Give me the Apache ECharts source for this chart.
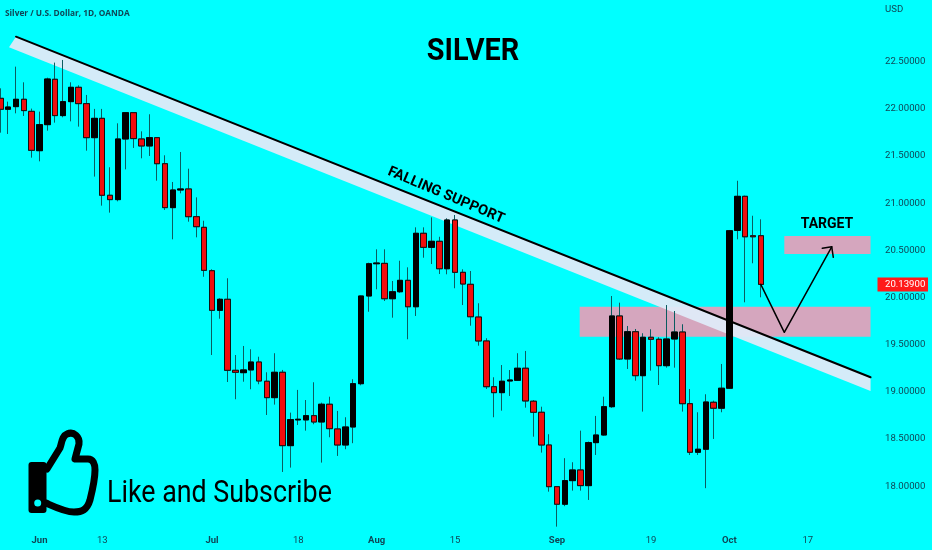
<!DOCTYPE html>
<html>
<head>
<meta charset="utf-8">
<style>html,body{margin:0;padding:0;background:#00ffff}#c{width:932px;height:550px}</style>
<script src="https://cdn.jsdelivr.net/npm/echarts@6/dist/echarts.min.js"></script>
</head>
<body>
<div id="c"></div>
<script>
const categories = ['May 25','May 26','May 27','May 30','May 31','Jun 1','Jun 2','Jun 3','Jun 6','Jun 7','Jun 8','Jun 9','Jun 10','Jun 13','Jun 14','Jun 15','Jun 16','Jun 17','Jun 20','Jun 21','Jun 22','Jun 23','Jun 24','Jun 27','Jun 28','Jun 29','Jun 30','Jul 1','Jul 4','Jul 5','Jul 6','Jul 7','Jul 8','Jul 11','Jul 12','Jul 13','Jul 14','Jul 15','Jul 18','Jul 19','Jul 20','Jul 21','Jul 22','Jul 25','Jul 26','Jul 27','Jul 28','Jul 29','Aug 1','Aug 2','Aug 3','Aug 4','Aug 5','Aug 8','Aug 9','Aug 10','Aug 11','Aug 12','Aug 15','Aug 16','Aug 17','Aug 18','Aug 19','Aug 22','Aug 23','Aug 24','Aug 25','Aug 26','Aug 29','Aug 30','Aug 31','Sep 1','Sep 2','Sep 5','Sep 6','Sep 7','Sep 8','Sep 9','Sep 12','Sep 13','Sep 14','Sep 15','Sep 16','Sep 19','Sep 20','Sep 21','Sep 22','Sep 23','Sep 26','Sep 27','Sep 28','Sep 29','Sep 30','Oct 3','Oct 4','Oct 5','Oct 6','Oct 7','Oct 10','Oct 11','Oct 12','Oct 13','Oct 14','Oct 17','Oct 18','Oct 19','Oct 20','Oct 21','Oct 24','Oct 25','Oct 26','Oct 27'];
const tickDates = ['Jun 1','Jun 13','Jul 1','Jul 18','Aug 1','Aug 15','Sep 1','Sep 19','Oct 3','Oct 17'];
const tickLabels = ['Jun','13','Jul','18','Aug','15','Sep','19','Oct','17'];
const opens = [22.112,21.996,22.024,22.102,21.974,21.557,21.833,22.314,21.929,22.077,22.229,22.056,21.695,21.900,21.084,21.038,21.681,21.960,21.681,21.607,21.695,21.419,20.953,21.140,21.151,20.857,20.744,20.284,19.864,19.981,19.228,19.203,19.232,19.316,19.112,18.938,19.207,18.429,18.702,18.702,18.747,18.680,18.868,18.606,18.436,18.627,19.086,20.016,20.358,20.362,19.987,20.061,20.182,19.902,20.681,20.532,20.596,20.305,20.822,20.267,20.140,19.793,19.539,19.054,18.991,19.115,19.122,19.250,18.900,18.783,18.436,17.994,17.808,18.058,18.171,18.005,18.461,18.542,18.842,19.804,19.348,19.637,19.171,19.578,19.557,19.277,19.560,19.634,18.874,18.359,18.391,18.889,18.826,19.038,20.712,21.073,20.655,20.655];
const closes = [21.996,22.020,22.102,21.982,21.561,21.833,22.317,21.929,22.077,22.229,22.056,21.695,21.900,21.084,21.038,21.681,21.960,21.685,21.607,21.695,21.419,20.953,21.140,21.151,20.857,20.751,20.288,19.864,19.981,19.228,19.207,19.232,19.316,19.115,18.938,19.207,18.429,18.705,18.709,18.747,18.680,18.868,18.609,18.436,18.627,19.086,20.016,20.358,20.366,19.987,20.061,20.182,19.902,20.681,20.532,20.596,20.305,20.822,20.267,20.143,19.796,19.539,19.054,18.991,19.112,19.125,19.250,18.903,18.783,18.436,17.994,17.808,18.058,18.171,18.005,18.461,18.542,18.842,19.804,19.348,19.637,19.171,19.578,19.557,19.277,19.560,19.634,18.874,18.359,18.391,18.892,18.826,19.038,20.708,21.073,20.644,20.644,20.139];
const lows = [21.748,21.734,21.953,21.925,21.483,21.444,21.769,21.854,21.911,21.868,21.812,21.557,21.282,20.974,20.900,21.020,21.359,21.586,21.476,21.501,21.239,20.928,20.617,21.105,20.804,20.638,20.220,19.390,19.775,19.104,18.921,19.107,19.027,19.080,18.754,18.864,18.150,18.196,18.648,18.588,18.656,18.249,18.518,18.320,18.391,18.455,19.069,19.849,20.087,19.963,19.786,20.050,19.557,19.804,20.422,20.355,20.249,20.246,20.098,19.920,19.701,19.489,19.030,18.730,18.800,18.956,19.115,18.832,18.524,18.355,17.941,17.570,17.787,17.952,17.952,17.853,18.330,18.535,18.830,19.337,19.242,19.118,18.790,19.224,19.072,19.256,19.256,18.790,18.330,18.330,17.978,18.500,18.783,19.030,20.617,19.949,20.363,20.002];
const highs = [22.218,22.077,22.448,22.282,22.003,21.971,22.331,22.491,22.519,22.282,22.250,22.148,22.000,22.000,21.381,21.847,21.960,21.960,21.762,21.943,21.695,21.508,21.225,21.543,21.366,21.062,20.814,20.299,19.992,20.204,19.390,19.486,19.451,19.372,19.207,19.409,19.232,18.779,19.020,18.913,19.101,18.885,18.948,18.797,18.730,19.133,20.020,20.369,20.511,20.511,20.175,20.390,20.320,20.744,20.744,20.850,20.644,20.840,20.875,20.299,20.281,19.939,19.568,19.154,19.284,19.231,19.409,19.433,18.913,18.842,18.550,18.000,18.296,18.253,18.588,18.472,18.744,18.948,20.016,19.945,19.698,19.666,19.621,19.663,19.578,19.920,19.857,19.716,19.030,18.783,18.974,18.906,19.295,20.716,21.238,21.080,20.867,20.829];
const lastPrice = 20.139;
const trendLine = [[2,22.766],[111,19.154]];
const trendBand = [[2,22.766],[111,19.154],[111,19.009],[1.11,22.653]];
const zones = [[73.9,111,19.584,19.902],[100,111,20.461,20.652]];
const arrowPath = [[97,20.139],[100,19.631],[106.05,20.538]];
const arrowHead = [[104.85,20.522],[106.05,20.538],[106.25,20.426]];

const wickData = opens.map((o,i)=>[o,closes[i],lows[i],highs[i]]);
const bodyData = opens.map((o,i)=>[o,closes[i],Math.min(o,closes[i]),Math.max(o,closes[i])]);
const chart = echarts.init(document.getElementById('c'));
const WICK='#0a5c60', TXT='#0f4656', F='Roboto, sans-serif';
const lineOpt=(data,w,z)=>({type:'line',xAxisIndex:1,yAxisIndex:0,data,symbol:'none',silent:true,z,clip:false,lineStyle:{color:'#000',width:w,cap:'round',join:'round'}});
chart.setOption({
  animation:false,
  backgroundColor:'#00ffff',
  grid:{left:0.3,top:14.6,width:870.24,height:518.65},
  xAxis:[
    {type:'category',data:categories,boundaryGap:false,axisLine:{show:false},axisTick:{show:false},splitLine:{show:false},
     axisLabel:{margin:2,fontSize:9.5,fontFamily:F,color:TXT,hideOverlap:false,
       interval:(i,v)=>tickDates.includes(v),
       formatter:v=>{const k=tickDates.indexOf(v);if(k<0)return '';const l=tickLabels[k];return /^\d/.test(l)?l:'{b|'+l+'}';},
       rich:{b:{fontWeight:'bold',fontSize:9.5,fontFamily:F,color:TXT}}}},
    {type:'value',show:false,min:0,max:111,splitLine:{show:false}}
  ],
  yAxis:{type:'value',position:'right',min:17.5,max:23,interval:0.5,axisLine:{show:false},axisTick:{show:false},splitLine:{show:false},
    axisLabel:{margin:14.5,fontSize:9.6,fontFamily:F,color:TXT,padding:[4,0,0,0],formatter:v=>(v<18||v>22.5)?'':v.toFixed(5)}},
  series:[
    {type:'custom',xAxisIndex:1,yAxisIndex:0,z:1,silent:true,data:zones,clip:false,
     renderItem:(p,api)=>{const a=api.coord([api.value(0),api.value(3)]),b=api.coord([api.value(1),api.value(2)]);
       return {type:'rect',shape:{x:a[0],y:a[1],width:b[0]-a[0],height:b[1]-a[1]},style:{fill:'#d5a6be'}};}},
    {type:'custom',xAxisIndex:1,yAxisIndex:0,z:2,silent:true,data:[[0]],clip:false,
     renderItem:(p,api)=>({type:'polygon',shape:{points:trendBand.map(q=>api.coord(q))},style:{fill:'#dfeaf8',opacity:0.95}})},
    {type:'candlestick',xAxisIndex:0,yAxisIndex:0,z:3,barWidth:6,clip:false,data:wickData,silent:true,
     itemStyle:{color:WICK,color0:WICK,borderColor:WICK,borderColor0:WICK,borderColorDoji:WICK,borderWidth:1}},
    {type:'candlestick',xAxisIndex:0,yAxisIndex:0,z:4,barWidth:6,clip:false,data:bodyData,silent:true,
     itemStyle:{color:'#000',color0:'#f20d0d',borderColor:'#000',borderColor0:'#111',borderColorDoji:'#111',borderWidth:1}},
    lineOpt(trendLine,2,5),
    lineOpt(arrowPath,1.5,6),
    lineOpt(arrowHead,1.5,6)
  ]
});
const lastY = chart.convertToPixel({yAxisIndex:0}, lastPrice);
chart.setOption({graphic:[
  {type:'text',x:5,y:13,scaleX:0.875,style:{text:'Silver / U.S. Dollar, 1D, OANDA',x:0,y:0,font:'bold 9.5px "Open Sans"',fill:TXT,textVerticalAlign:'middle'}},
  {type:'text',style:{text:'USD',x:885,y:10,font:'9.6px Roboto',fill:TXT,textVerticalAlign:'middle'}},
  {type:'text',x:473,y:52,scaleX:0.9,style:{text:'SILVER',x:0,y:0,font:'bold 32px Roboto',fill:'#000',textAlign:'center',textVerticalAlign:'middle'}},
  {type:'text',style:{text:'TARGET',x:827,y:224.5,font:'bold 14px Roboto',fill:'#000',textAlign:'center',textVerticalAlign:'middle'}},
  {type:'text',x:446,y:195.5,rotation:-0.40,style:{text:'FALLING SUPPORT',x:0,y:0,font:'bold 14.5px Roboto',fill:'#000',textAlign:'center',textVerticalAlign:'middle'}},
  {type:'text',x:107,y:494.5,scaleX:0.865,style:{text:'Like and Subscribe',x:0,y:0,font:'31px Roboto',fill:'#000',textVerticalAlign:'middle'}},
  {type:'rect',shape:{x:877.5,y:lastY-7,width:50.5,height:14},style:{fill:'#ff1a1a'}},
  {type:'text',style:{text:lastPrice.toFixed(5),x:885,y:lastY,font:'9.6px Roboto',fill:'#fff',textVerticalAlign:'middle'}},
  {type:'rect',shape:{x:28.5,y:462,width:18,height:51,r:3},style:{fill:'#000'}},
  {type:'circle',z:101,shape:{cx:37.7,cy:503,r:3.5},style:{fill:'#00ffff'}}
]});
chart.getZr().add(echarts.graphic.makePath('M47 469 L60 448 C62 442 62 436 67 434 C74 431 80 437 79 444 L75 459 L88 459 C93 459 95 464 95 470 C95 478 92 492 90 500 C87 510 82 512 74 512 C65 512 55 507 46 503',{style:{fill:null,stroke:'#000',lineWidth:7,lineJoin:'round',lineCap:'round'},z:100}));
</script>
</body>
</html>
